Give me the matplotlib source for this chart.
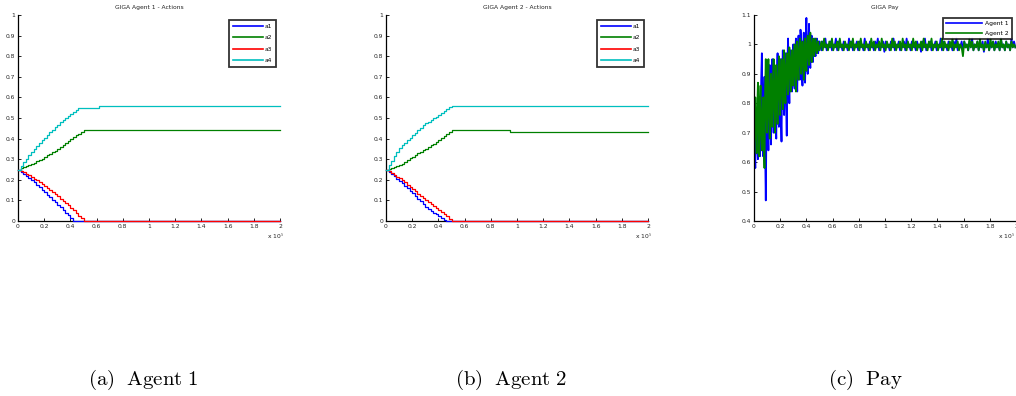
import numpy as np
import matplotlib
matplotlib.use("Agg")
import matplotlib.pyplot as plt

plt.rcParams['mathtext.fontset'] = 'cm'
plt.rcParams['font.family'] = ['DejaVu Sans']

# ---------------- data ----------------
t_steps = [0, 2000, 4000, 6000, 8000, 10000, 12000, 14000, 16000, 18000, 20000,
           22000, 24000, 26000, 28000, 30000, 32000, 34000, 36000, 38000, 40000,
           42000, 44000, 46000, 48000, 50000]
t_end = 200000

ag1_a1 = [0.250, 0.240, 0.230, 0.220, 0.210, 0.200, 0.188, 0.176, 0.164, 0.152, 0.140,
          0.128, 0.116, 0.104, 0.092, 0.080, 0.067, 0.054, 0.041, 0.028, 0.015,
          0.0, 0.0, 0.0, 0.0, 0.0]
ag1_a2 = [0.25, 0.255, 0.26, 0.265, 0.27, 0.275, 0.282, 0.289, 0.296, 0.303, 0.31,
          0.318, 0.326, 0.334, 0.342, 0.35, 0.36, 0.37, 0.38, 0.39, 0.40,
          0.408, 0.416, 0.424, 0.432, 0.44]
ag1_a3 = [0.25, 0.243, 0.236, 0.229, 0.222, 0.215, 0.206, 0.197, 0.188, 0.179, 0.170,
          0.160, 0.150, 0.140, 0.130, 0.120, 0.109, 0.098, 0.087, 0.076, 0.065,
          0.052, 0.039, 0.026, 0.013, 0.0]
ag1_a4 = [0.25, 0.268, 0.286, 0.303, 0.319, 0.335, 0.349, 0.363, 0.377, 0.391, 0.405,
          0.418, 0.431, 0.443, 0.456, 0.468, 0.479, 0.489, 0.499, 0.510, 0.520,
          0.530, 0.539, 0.548, 0.55, 0.55]
ag1_a4_jump_t = 62000
ag1_a4_final = 0.56

ag2_a1 = [0.25, 0.239, 0.228, 0.217, 0.206, 0.195, 0.183, 0.171, 0.159, 0.147, 0.135,
          0.122, 0.109, 0.096, 0.083, 0.07, 0.06, 0.05, 0.041, 0.032, 0.023,
          0.014, 0.006, 0.0, 0.0, 0.0]
ag2_a2 = [0.25, 0.254, 0.258, 0.262, 0.266, 0.27, 0.279, 0.287, 0.296, 0.304, 0.313,
          0.320, 0.328, 0.335, 0.343, 0.35, 0.359, 0.368, 0.376, 0.385, 0.394,
          0.403, 0.412, 0.422, 0.431, 0.44]
ag2_a3 = [0.25, 0.242, 0.233, 0.225, 0.216, 0.208, 0.197, 0.187, 0.176, 0.166, 0.155,
          0.144, 0.133, 0.122, 0.111, 0.10, 0.091, 0.082, 0.073, 0.064, 0.055,
          0.044, 0.033, 0.022, 0.011, 0.0]
ag2_a4 = [0.25, 0.272, 0.293, 0.314, 0.334, 0.354, 0.367, 0.380, 0.392, 0.405, 0.418,
          0.429, 0.441, 0.452, 0.464, 0.475, 0.483, 0.491, 0.499, 0.507, 0.515,
          0.524, 0.533, 0.542, 0.551, 0.56]
ag2_a2_jump_t = 95000
ag2_a2_final = 0.43

pay_t_early = list(range(0, 50500, 500))
pay_t_late = list(range(50500, 200500, 1000))

pay1_early = [0.70, 0.64, 0.58, 0.74, 0.78, 0.66, 0.61, 0.75, 0.80, 0.62,
              0.66, 0.88, 0.97, 0.70, 0.62, 0.80, 0.89, 0.64, 0.47, 0.72,
              0.84, 0.76, 0.64, 0.86, 0.93, 0.74, 0.66, 0.88, 0.95, 0.78,
              0.70, 0.86, 0.92, 0.74, 0.68, 0.90, 0.97, 0.80, 0.72, 0.88,
              0.95, 0.76, 0.67, 0.90, 0.98, 0.84, 0.76, 0.92, 0.97, 0.80,
              0.69, 0.93, 1.02, 0.88, 0.80, 0.95, 0.98, 0.88, 0.84, 0.96,
              1.00, 0.90, 0.85, 0.97, 1.02, 0.90, 0.84, 0.98, 1.03, 0.92,
              0.88, 1.05, 1.01, 0.91, 0.86, 0.99, 1.04, 0.93, 0.87, 1.00,
              1.09, 0.95, 0.90, 1.00, 1.07, 0.96, 0.92, 1.01, 1.03, 0.96,
              0.94, 1.01, 1.02, 0.97, 0.96, 1.01, 1.02, 0.98, 0.97, 1.01,
              1.01]
pay1_late = [1.00, 0.98, 1.01, 0.99, 1.02, 0.98, 1.00, 0.99, 1.01, 0.98,
             1.00, 0.99, 1.02, 0.98, 1.01, 0.99, 1.00, 0.98, 1.01, 0.99,
             1.00, 0.98, 1.02, 0.99, 1.01, 0.98, 1.00, 0.99, 1.01, 0.98,
             1.01, 0.99, 1.00, 0.98, 1.02, 0.99, 1.00, 0.98, 1.01, 0.99,
             1.00, 0.98, 1.01, 0.99, 1.02, 0.98, 1.00, 0.99, 1.01, 0.975,
             1.01, 0.99, 1.00, 0.98, 1.01, 0.99, 1.02, 0.98, 1.00, 0.99,
             1.01, 0.98, 1.00, 0.99, 1.01, 0.98, 1.02, 0.99, 1.00, 0.98,
             1.01, 0.99, 1.00, 0.98, 1.01, 0.99, 1.00, 0.975, 1.01, 0.99,
             1.02, 0.98, 1.00, 0.99, 1.01, 0.98, 1.00, 0.99, 1.01, 0.98,
             1.00, 0.99, 1.02, 0.98, 1.01, 0.99, 1.00, 0.98, 1.01, 0.99,
             1.00, 0.98, 1.01, 0.99, 1.02, 0.98, 1.00, 0.99, 1.01, 0.98,
             1.01, 0.99, 1.00, 0.98, 1.01, 0.99, 1.02, 0.98, 1.00, 0.99,
             1.01, 0.98, 1.00, 0.99, 1.01, 0.975, 1.00, 0.99, 1.02, 0.98,
             1.00, 0.99, 1.01, 0.98, 1.01, 0.99, 1.00, 0.98, 1.02, 0.99,
             1.00, 0.98, 1.01, 0.99, 1.00, 0.98, 1.02, 0.99, 1.01, 0.99]
pay2_early = [0.65, 0.74, 0.82, 0.70, 0.63, 0.78, 0.87, 0.72, 0.62, 0.80,
              0.86, 0.70, 0.64, 0.76, 0.82, 0.66, 0.58, 0.84, 0.95, 0.78,
              0.70, 0.86, 0.95, 0.76, 0.68, 0.84, 0.90, 0.78, 0.72, 0.88,
              0.95, 0.80, 0.70, 0.86, 0.93, 0.80, 0.73, 0.88, 0.96, 0.84,
              0.76, 0.90, 0.95, 0.84, 0.78, 0.92, 0.98, 0.86, 0.80, 0.92,
              0.97, 0.88, 0.83, 0.94, 0.99, 0.90, 0.84, 0.95, 0.98, 0.90,
              0.86, 0.96, 1.00, 0.90, 0.84, 0.97, 1.01, 0.93, 0.88, 0.98,
              1.02, 0.94, 0.90, 0.98, 1.01, 0.93, 0.88, 0.99, 1.02, 0.95,
              0.91, 1.00, 1.03, 0.96, 0.93, 1.01, 1.04, 0.97, 0.94, 1.00,
              1.02, 0.97, 0.96, 1.01, 1.02, 0.98, 0.97, 1.00, 1.01, 0.98,
              0.98]
pay2_late = [0.99, 1.01, 0.98, 1.02, 0.99, 1.00, 0.98, 1.01, 0.99, 1.02,
             0.98, 1.00, 0.99, 1.01, 0.98, 1.02, 0.99, 1.00, 0.98, 1.01,
             0.99, 1.00, 0.98, 1.01, 0.99, 1.02, 0.98, 1.00, 0.99, 1.01,
             0.98, 1.02, 0.99, 1.00, 0.98, 1.01, 0.99, 1.00, 0.98, 1.02,
             0.99, 1.01, 0.98, 1.00, 0.99, 1.01, 0.98, 1.02, 0.99, 1.00,
             0.98, 1.01, 0.99, 1.00, 0.98, 1.02, 0.99, 1.01, 0.98, 1.00,
             0.99, 1.01, 0.98, 1.02, 0.99, 1.00, 0.98, 1.01, 0.99, 1.00,
             0.98, 1.02, 0.99, 1.01, 0.98, 1.00, 0.99, 1.01, 0.98, 1.02,
             0.99, 1.00, 0.98, 1.01, 0.99, 1.02, 0.98, 1.00, 0.99, 1.01,
             0.98, 1.00, 0.99, 1.02, 0.98, 1.01, 0.99, 1.00, 0.98, 1.01,
             0.99, 1.02, 0.98, 1.00, 0.99, 1.01, 0.98, 1.00, 0.99, 0.96,
             1.01, 0.99, 1.00, 0.98, 1.02, 0.99, 1.01, 0.98, 1.00, 0.99,
             1.01, 0.98, 1.02, 0.99, 1.00, 0.98, 1.01, 0.99, 1.00, 0.98,
             1.02, 0.99, 1.01, 0.98, 1.00, 0.99, 1.01, 0.98, 1.02, 0.99,
             1.00, 0.98, 1.01, 0.99, 1.00, 0.98, 1.01, 0.99, 1.00, 0.99]

action_labels = ['a1', 'a2', 'a3', 'a4']
pay_labels = ['Agent 1', 'Agent 2']
titles = ['GIGA Agent 1 - Actions', 'GIGA Agent 2 - Actions', 'GIGA Pay']
captions = ['(a)  Agent 1', '(b)  Agent 2', '(c)  Pay']

C_BLUE = (0, 0, 1)
C_GREEN = (0, 0.5, 0)
C_RED = (1, 0, 0)
C_CYAN = (0, 0.75, 0.75)
action_colors = [C_BLUE, C_GREEN, C_RED, C_CYAN]

W, H = 1016, 396
fig = plt.figure(figsize=(W / 100, H / 100), dpi=100)

def ax_rect(left_px):
    return [left_px / W, (H - 221) / H, 262 / W, 206 / H]

TFS = 4.3

def style(ax, ylim, yticks, title, offset_right=False):
    ax.set_xlim(0, 2)
    ax.set_ylim(*ylim)
    xt = np.round(np.arange(0, 2.01, 0.2), 1)
    ax.set_xticks(xt)
    ax.set_xticklabels([('%g' % v) for v in xt])
    ax.set_yticks(yticks)
    ax.set_yticklabels([('%g' % v) for v in yticks])
    for s in ['top', 'right']:
        ax.spines[s].set_visible(False)
    for s in ['left', 'bottom']:
        ax.spines[s].set_linewidth(0.9)
    ax.tick_params(direction='in', length=2.5, width=0.7, labelsize=TFS,
                   pad=2, colors='#222222')
    ax.set_title(title, fontsize=TFS, pad=4, color='#222222')
    if offset_right:
        ax.text(0.998, -0.075, r'x 10$^5$', transform=ax.transAxes, fontsize=TFS,
                va='center', ha='right', color='#222222')
    else:
        ax.text(0.95, -0.075, r'x 10$^5$', transform=ax.transAxes, fontsize=TFS,
                va='center', ha='left', color='#222222')

def stair(ax, xs, ys, color, label):
    ax.plot(np.array(xs) / 1e5, ys, drawstyle='steps-post', color=color,
            lw=0.9, label=label, clip_on=False, zorder=3)

agents = [
    (18, [ag1_a1, ag1_a2, ag1_a3, ag1_a4]),
    (386, [ag2_a1, ag2_a2, ag2_a3, ag2_a4]),
]
for i, (left, series) in enumerate(agents):
    ax = fig.add_axes(ax_rect(left))
    for k, (ys, col, lab) in enumerate(zip(series, action_colors, action_labels)):
        xs = list(t_steps)
        yy = list(ys)
        if i == 0 and k == 3:
            xs += [ag1_a4_jump_t]
            yy += [ag1_a4_final]
        if i == 1 and k == 1:
            xs += [ag2_a2_jump_t]
            yy += [ag2_a2_final]
        xs += [t_end]
        yy += [yy[-1]]
        stair(ax, xs, yy, col, lab)
    style(ax, (0, 1), np.round(np.arange(0, 1.01, 0.1), 1), titles[i])
    leg = ax.legend(loc='upper right', bbox_to_anchor=(0.985, 0.975), fontsize=TFS,
                    frameon=True, fancybox=False, handlelength=5,
                    borderpad=0.6, labelspacing=1.05, handletextpad=0.4,
                    borderaxespad=0)
    leg.get_frame().set_edgecolor('black')
    leg.get_frame().set_linewidth(1.3)
    for ln in leg.get_lines():
        ln.set_linewidth(1.2)

# pay panel
ax = fig.add_axes(ax_rect(754))
pt = np.array(pay_t_early + pay_t_late) / 1e5
ax.plot(pt, pay1_early + pay1_late, color=C_BLUE, lw=1.3, label=pay_labels[0])
ax.plot(pt, pay2_early + pay2_late, color=C_GREEN, lw=1.3, label=pay_labels[1])
style(ax, (0.4, 1.1), np.round(np.arange(0.4, 1.101, 0.1), 1), titles[2],
      offset_right=True)
leg = ax.legend(loc='upper right', bbox_to_anchor=(0.985, 0.985), fontsize=TFS,
                frameon=True, fancybox=False, handlelength=6,
                borderpad=0.5, labelspacing=0.8, handletextpad=0.6,
                borderaxespad=0)
leg.get_frame().set_edgecolor('black')
leg.get_frame().set_linewidth(1.3)
for ln in leg.get_lines():
    ln.set_linewidth(1.2)

cap_x = [143, 511, 865]
for cx, cap in zip(cap_x, captions):
    fig.text(cx / W, 1 - 380 / H, r'$\mathrm{' + cap.replace(' ', r'\ ') + '}$',
             fontsize=15, ha='center', va='center')

fig.savefig('out.png', dpi=100)
